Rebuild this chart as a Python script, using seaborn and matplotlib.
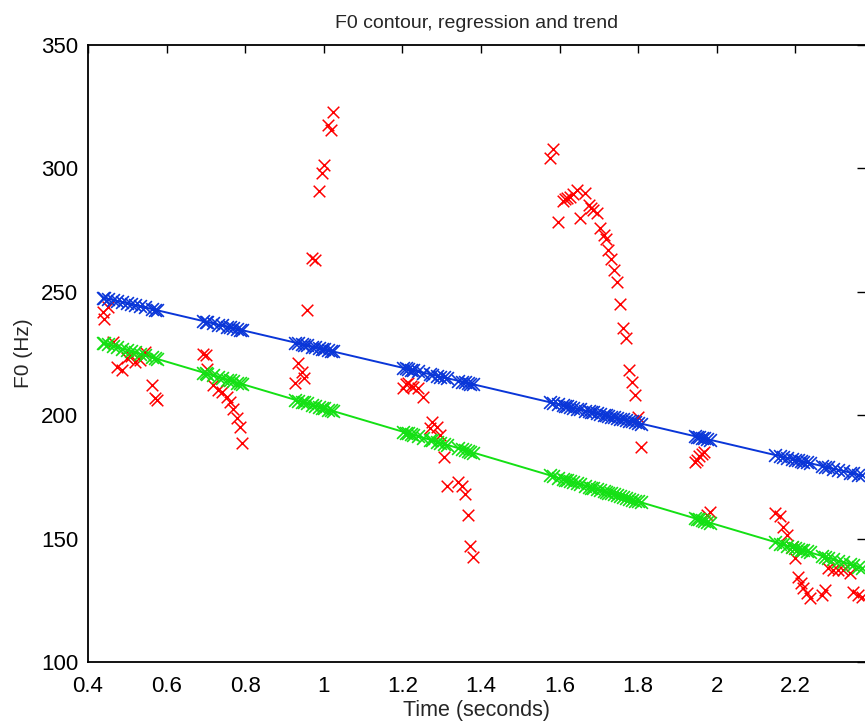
import pandas as pd
import seaborn as sns
import matplotlib.pyplot as plt

# voiced frames of the F0 contour: time (s) and F0 (Hz)
time_s = [
    0.438, 0.441, 0.451, 0.464, 0.474, 0.487, 0.500, 0.510, 0.520, 0.532, 0.545, 0.563, 0.570, 0.576,
    0.693, 0.700, 0.703, 0.718, 0.731, 0.741, 0.754, 0.761, 0.769, 0.779, 0.787, 0.792,
    0.927, 0.934, 0.944, 0.950, 0.957, 0.970, 0.978, 0.988, 0.995, 1.000, 1.011, 1.018, 1.023,
    1.201, 1.208, 1.214, 1.221, 1.227, 1.240, 1.252, 1.270, 1.275, 1.288, 1.296, 1.306, 1.313,
    1.341, 1.352, 1.359, 1.367, 1.372, 1.380,
    1.576, 1.583, 1.596, 1.609, 1.615, 1.619, 1.626, 1.634, 1.644, 1.652, 1.665, 1.675, 1.680,
    1.685, 1.695, 1.703, 1.713, 1.718, 1.723, 1.731, 1.738, 1.746, 1.754, 1.761, 1.769, 1.777,
    1.784, 1.792, 1.799, 1.807,
    1.944, 1.949, 1.954, 1.962, 1.967, 1.975, 1.983,
    2.148, 2.161, 2.168, 2.179, 2.191, 2.199, 2.207, 2.214, 2.219, 2.229, 2.237,
    2.268, 2.275, 2.283, 2.296, 2.308, 2.321, 2.339, 2.347, 2.360, 2.370,
]
f0_hz = [
    241.8, 239.0, 243.8, 229.7, 219.5, 218.3, 223.0, 224.0, 221.6, 222.4, 225.6, 212.2, 207.0, 206.2,
    224.8, 224.5, 218.7, 212.2, 210.2, 209.4, 207.4, 205.3, 202.5, 198.9, 195.2, 188.7,
    213.0, 221.2, 217.5, 215.1, 242.6, 263.7, 262.9, 290.8, 298.1, 301.4, 317.6, 315.6, 322.9,
    211.0, 212.5, 213.0, 212.0, 211.4, 211.0, 207.4, 194.8, 197.2, 195.2, 192.0, 183.1, 171.3,
    172.9, 171.3, 168.1, 159.6, 147.0, 142.5,
    304.2, 307.9, 278.3, 286.8, 287.5, 288.0, 288.4, 289.6, 291.2, 279.9, 290.0, 285.2, 284.0,
    283.1, 281.9, 275.9, 273.0, 271.4, 266.9, 263.3, 258.8, 254.0, 245.1, 235.3, 231.3, 218.3,
    213.5, 208.2, 199.3, 187.1,
    181.0, 181.8, 183.5, 184.3, 185.1, 159.6, 160.8,
    160.4, 159.2, 154.7, 151.5, 146.6, 142.2, 134.4, 132.0, 130.0, 128.0, 126.0,
    127.2, 129.2, 138.1, 137.3, 137.3, 137.3, 136.1, 128.4, 127.2, 126.5,
]

# straight lines: f0 = intercept + slope * t
regression_coef = (264.0, -37.3)
trend_coef = (250.0, -47.2)

x_ticks = [0.4, 0.6, 0.8, 1.0, 1.2, 1.4, 1.6, 1.8, 2.0, 2.2]
x_tick_labels = ["0.4", "0.6", "0.8", "1", "1.2", "1.4", "1.6", "1.8", "2", "2.2"]
y_ticks = [100, 150, 200, 250, 300, 350]

df = pd.DataFrame({"time": time_s, "f0": f0_hz})
df["regression"] = regression_coef[0] + regression_coef[1] * df["time"]
df["trend"] = trend_coef[0] + trend_coef[1] * df["time"]

sns.set_style("white")
plt.rcParams["font.family"] = ["Liberation Sans", "DejaVu Sans"]

fig = plt.figure(figsize=(8.65, 7.24), dpi=100)
ax = fig.add_axes([88 / 865, 1 - 662 / 724, 1 - 88 / 865, (662 - 45) / 724])

red, blue, green = "#ff0000", "#0a36d8", "#14e014"

sns.scatterplot(data=df, x="time", y="f0", marker="x", color=red, s=70, linewidth=1.1, ax=ax)
sns.lineplot(data=df, x="time", y="regression", color=blue, linewidth=1.4, errorbar=None, ax=ax)
sns.scatterplot(data=df, x="time", y="regression", marker="x", color=blue, s=85, linewidth=1.2, ax=ax)
sns.lineplot(data=df, x="time", y="trend", color=green, linewidth=1.4, errorbar=None, ax=ax)
sns.scatterplot(data=df, x="time", y="trend", marker="x", color=green, s=85, linewidth=1.2, ax=ax)

ax.set_xlim(0.4, 0.4 + 777 / 393)
ax.set_ylim(100, 350)
ax.set_xticks(x_ticks)
ax.set_xticklabels(x_tick_labels)
ax.set_yticks(y_ticks)
ax.tick_params(direction="in", top=True, right=True, length=6, width=1,
               labelsize=16, colors="black")
ax.tick_params(axis="x", pad=10)
ax.tick_params(axis="y", pad=7)
for side, sp in ax.spines.items():
    sp.set_color("black")
    sp.set_linewidth(1.3)
ax.spines["right"].set_visible(False)

ax.set_xlabel("Time (seconds)", fontsize=15.5, labelpad=2)
ax.set_ylabel("F0 (Hz)", fontsize=15, labelpad=6)
ax.set_title("F0 contour, regression and trend", fontsize=14, pad=12)

fig.savefig("out.png", dpi=100)
